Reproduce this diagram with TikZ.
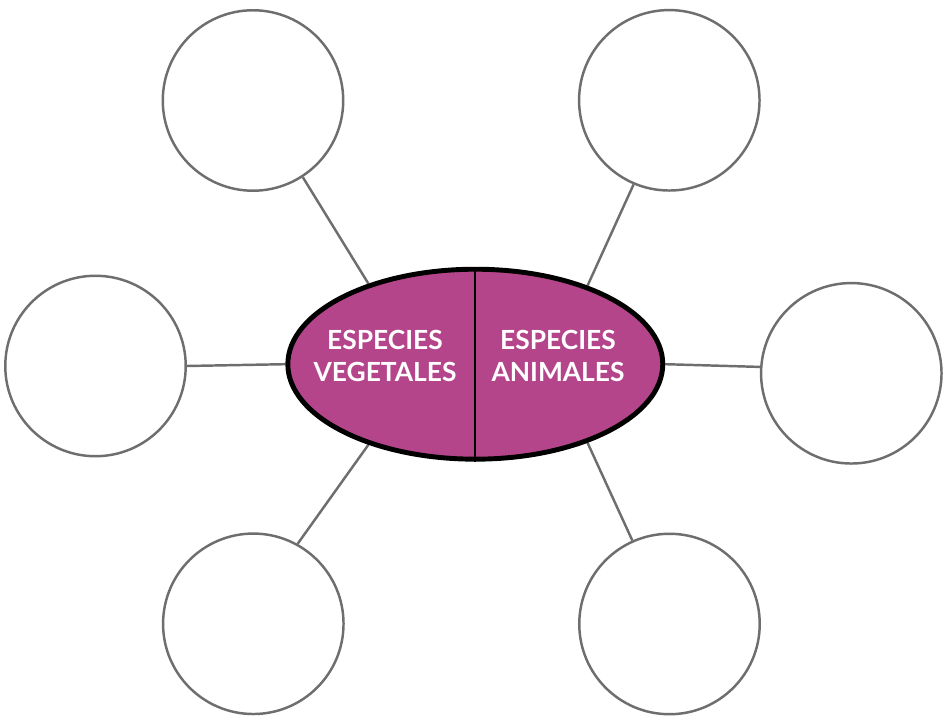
\documentclass[tikz,border=0pt]{standalone}
\usepackage{fontspec}
\setmainfont{Lato}
\usetikzlibrary{shapes.geometric,backgrounds}
\definecolor{magentac}{HTML}{B5458B}
\definecolor{ringc}{HTML}{6E6E6E}
\tikzset{
  ringnode/.style={circle, draw=ringc, line width=1.4pt, fill=white,
    minimum size=3.61cm, inner sep=0pt},
  centernode/.style={ellipse, draw=black, line width=2.8pt, fill=magentac,
    minimum width=7.5cm, minimum height=3.8cm, inner sep=0pt},
  labelnode/.style={text=white, align=center,
    font=\fontsize{15}{18}\selectfont\bfseries},
  linkedge/.style={draw=ringc, line width=1.4pt},
  splitedge/.style={draw=black, line width=1.2pt},
}
\begin{document}
\begin{tikzpicture}[x=0.02cm, y=-0.02cm]
  \useasboundingbox (0,0) rectangle (944,722);
  \node[ringnode] (tl) at (253,100.5) {};
  \node[ringnode] (tr) at (669.3,100.3) {};
  \node[ringnode] (lc) at (95.5,366) {};
  \node[ringnode] (rc) at (851.3,373.3) {};
  \node[ringnode] (bl) at (253.3,623.8) {};
  \node[ringnode] (br) at (669.5,624) {};
  \node[centernode] (ev) at (475.3,364.2) {};
  \begin{scope}[on background layer]
    \draw[linkedge] (tl.-57) -- (ev.143.4);
    \draw[linkedge] (tr.-113.3) -- (ev.35);
    \draw[linkedge] (lc.east) -- (ev.180.6);
    \draw[linkedge] (ev.-0.5) -- (rc.176);
    \draw[linkedge] (bl.61.8) -- (ev.-143.5);
    \draw[linkedge] (br.114.3) -- (ev.-35.4);
  \end{scope}
  \draw[splitedge] (ev.north) -- (ev.south);
  \node[labelnode] (veg) at (385,356) {ESPECIES\\VEGETALES};
  \node[labelnode] (anim) at (558,356) {ESPECIES\\ANIMALES};
\end{tikzpicture}
\end{document}
